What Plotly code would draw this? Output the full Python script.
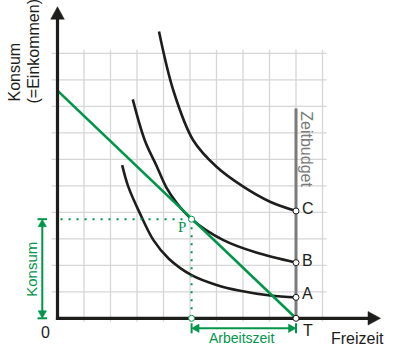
import plotly.graph_objects as go

# ---------------- data ----------------
grid_ticks = [1, 2, 3, 4, 5, 6, 7, 8, 9, 10]
time_budget = 9.0            # T on the Freizeit axis
max_consumption = 8.59       # budget line meets the Konsum axis
zeitbudget_top = 7.92        # top of the grey "Zeitbudget" line
p_freizeit = 5.06            # optimum P
p_konsum = 3.74

curve_a_x = [2.44, 2.67, 3.11, 3.62, 4.2, 5.06, 6.0, 6.89, 8.02, 9.0]
curve_a_y = [5.78, 4.97, 3.96, 2.95, 2.25, 1.63, 1.26, 1.04, 0.86, 0.79]

curve_b_x = [2.84, 3.3, 3.74, 4.1, 4.5, 5.06, 6.26, 7.5, 9.0]
curve_b_y = [8.26, 6.7, 5.75, 4.95, 4.35, 3.74, 2.95, 2.48, 2.10]

curve_c_x = [3.83, 4.37, 5.12, 6.0, 7.01, 8.02, 9.0]
curve_c_y = [10.82, 8.6, 6.72, 5.72, 4.97, 4.40, 4.05]

point_labels = ["A", "B", "C"]

# ---------------- styling ----------------
W, H = 400, 354
S = 26.5                      # pixels per unit
X0, Y0 = 57.5, 318.3          # pixel position of the origin
GREEN = "#00964a"
BLACK = "#1d1d1b"
GRID = "#d6d6d6"
GREY = "#7a7a7a"


def px(v):
    return v / S


fig = go.Figure()


def line(xs, ys, color, width, dash=None, shape="linear"):
    fig.add_trace(go.Scatter(x=xs, y=ys, mode="lines", hoverinfo="skip",
                             line=dict(color=color, width=width, dash=dash,
                                       shape=shape, smoothing=1.0),
                             showlegend=False))


def tri(tx, ty, d, length, half, color):
    # filled triangle with tip (tx,ty) pointing in direction d
    L, Hh = px(length), px(half)
    if d == "up":
        xs, ys = [tx, tx - Hh, tx + Hh, tx], [ty, ty - L, ty - L, ty]
    elif d == "down":
        xs, ys = [tx, tx - Hh, tx + Hh, tx], [ty, ty + L, ty + L, ty]
    elif d == "right":
        xs, ys = [tx, tx - L, tx - L, tx], [ty, ty - Hh, ty + Hh, ty]
    else:
        xs, ys = [tx, tx + L, tx + L, tx], [ty, ty - Hh, ty + Hh, ty]
    fig.add_trace(go.Scatter(x=xs, y=ys, mode="lines", fill="toself",
                             fillcolor=color, line=dict(color=color, width=0.5),
                             hoverinfo="skip", showlegend=False))


# grid
for t in grid_ticks:
    line([t, t], [-px(3.4), 10 + px(3.5)], GRID, 1.3)
    line([-px(6), 10 + px(4)], [t, t], GRID, 1.3)

# Zeitbudget line
line([time_budget, time_budget], [0, zeitbudget_top], GREY, 3)

# indifference curves
for cx, cy in [(curve_a_x, curve_a_y), (curve_b_x, curve_b_y), (curve_c_x, curve_c_y)]:
    line(cx, cy, BLACK, 2.6, shape="spline")

# budget line
line([0, time_budget], [max_consumption, 0], GREEN, 2.6)

# dotted guides
line([px(3), p_freizeit], [p_konsum, p_konsum], GREEN, 2, dash="2px,6px")
line([p_freizeit, p_freizeit], [p_konsum, 0], GREEN, 2, dash="2px,6px")

# axes
y_tip = Y0 / S - px(6.7)
x_tip = (380.5 - X0) / S
line([0, 0], [-px(1.6), y_tip - px(11)], BLACK, 3.2)
line([-px(1.6), x_tip - px(11)], [0, 0], BLACK, 3.2)
tri(0, y_tip, "up", 12.5, 6.8, BLACK)
tri(x_tip, 0, "right", 12.5, 6.8, BLACK)

# Konsum double arrow (green)
kx = -px(15.2)
line([kx, kx], [px(5), p_konsum - px(5)], GREEN, 2)
tri(kx, p_konsum, "up", 7.5, 4.2, GREEN)
tri(kx, 0, "down", 7.5, 4.2, GREEN)
line([kx - px(4.8), kx + px(4.8)], [p_konsum, p_konsum], GREEN, 2)
line([kx - px(4.8), kx + px(4.8)], [0, 0], GREEN, 2)

# Arbeitszeit double arrow (green)
ay = -px(10)
line([p_freizeit + px(5), time_budget - px(5)], [ay, ay], GREEN, 2)
tri(p_freizeit, ay, "left", 7.5, 4.2, GREEN)
tri(time_budget, ay, "right", 7.5, 4.2, GREEN)
line([p_freizeit, p_freizeit], [ay - px(5), ay + px(5)], GREEN, 2)
line([time_budget, time_budget], [ay - px(5), ay + px(5)], GREEN, 2)

# white points
end_y = [curve_a_y[-1], curve_b_y[-1], curve_c_y[-1]]
fig.add_trace(go.Scatter(x=[time_budget] * 4, y=end_y + [0], mode="markers",
                         marker=dict(size=6, color="white", line=dict(color=BLACK, width=1)),
                         hoverinfo="skip", showlegend=False))
fig.add_trace(go.Scatter(x=[p_freizeit, p_freizeit], y=[p_konsum, 0], mode="markers",
                         marker=dict(size=6, color="white", line=dict(color=GREEN, width=1)),
                         hoverinfo="skip", showlegend=False))

# text
font = "Liberation Sans, Arial, sans-serif"


def text(s, x, y, size, color, angle=0, fam=font, xa="center", ya="middle"):
    fig.add_annotation(x=x, y=y, xref="x", yref="y", text=s, showarrow=False,
                       textangle=angle, xanchor=xa, yanchor=ya,
                       font=dict(family=fam, size=size, color=color))


for lab, yv, dy in zip(point_labels, end_y, [4.0, 1.7, 2.5]):
    text(lab, time_budget + px(11.5), yv + px(dy), 16, BLACK)
text("T", time_budget + px(11.5), -px(11.7), 16, BLACK)
text("0", -px(12.5), -px(13.7), 16, BLACK)
text("Freizeit", (357.5 - X0) / S, -px(19.7), 16, BLACK)
text("Arbeitszeit", (p_freizeit + time_budget) / 2 + px(-2.5), -px(20), 14, GREEN)
text("Konsum", -px(26), p_konsum / 2 + px(-0.5), 15, GREEN, angle=-90)
text("P", p_freizeit - px(9.7), p_konsum - px(8), 15, GREEN,
     fam="Liberation Serif, Times New Roman, serif")
text("Zeitbudget", time_budget + px(10.7), (Y0 - 149) / S, 16, GREY, angle=90)
text("Konsum", -px(43.5), (Y0 - 72.5) / S, 16, BLACK, angle=-90)
text("(=Einkommen)", -px(24.5), (Y0 - 51.5) / S, 16, BLACK, angle=-90)

fig.update_layout(
    width=W, height=H, autosize=False,
    margin=dict(l=0, r=0, t=0, b=0),
    paper_bgcolor="white", plot_bgcolor="white",
    xaxis=dict(range=[-X0 / S, (W - X0) / S], visible=False, fixedrange=True),
    yaxis=dict(range=[-(H - Y0) / S, Y0 / S], visible=False, fixedrange=True),
    showlegend=False,
)

fig.write_html("out.html")
